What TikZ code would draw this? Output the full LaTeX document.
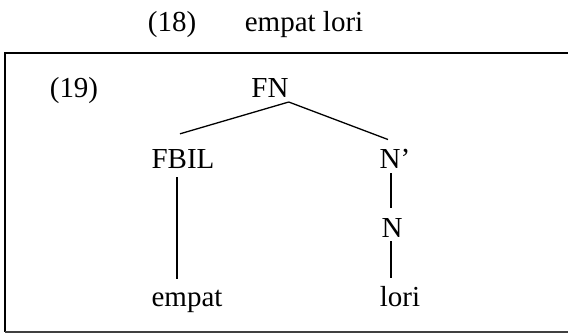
\documentclass[tikz,border=0pt]{standalone}
\usepackage{fontspec}
\setmainfont{Liberation Serif}
\usetikzlibrary{calc}
\begin{document}
\begin{tikzpicture}[x=1pt,y=-1pt,
  lbl/.style={inner sep=0pt, anchor=base, font=\fontsize{29}{31}\selectfont},
  branch/.style={line width=1.3pt},
  frameline/.style={line width=1.8pt}]
\useasboundingbox (0,0) rectangle (568,333);
\draw[frameline] (568,53) -- (5,53) -- (5,332);
\draw[frameline, black!75] (5,332) -- (568,332);
\node[lbl] (ex18) at (172,31) {(18)};
\node[lbl] (phrase) at (304,31) {empat lori};
\node[lbl] (ex19) at (74,97) {(19)};
\node[lbl] (fn) at (270,97) {FN};
\node[lbl] (fbil) at (183,168) {FBIL};
\node[lbl] (nbar) at (395,168) {N’};
\node[lbl] (n) at (392,237) {N};
\node[lbl] (empat) at (187,306) {empat};
\node[lbl] (lori) at (400,306) {lori};
\coordinate (apex) at ([yshift=-5pt]fn.base east);
\draw[branch] (apex) -- ([shift={(-3pt,15pt)}]fbil.north);
\draw[branch] (apex) -- ([shift={(-7pt,9pt)}]nbar.north);
\coordinate (fbilfoot) at ([shift={(-6pt,-9pt)}]fbil.base);
\draw[branch] (fbilfoot) -- ([yshift=10pt]fbilfoot |- empat.north);
\coordinate (nbarfoot) at ([shift={(-4pt,-5pt)}]nbar.base);
\draw[branch] (nbarfoot) -- ([yshift=10pt]nbarfoot |- n.north);
\coordinate (nfoot) at ([shift={(-1pt,-4pt)}]n.base);
\draw[branch] (nfoot) -- ([yshift=8pt]nfoot |- lori.north);
\end{tikzpicture}
\end{document}
